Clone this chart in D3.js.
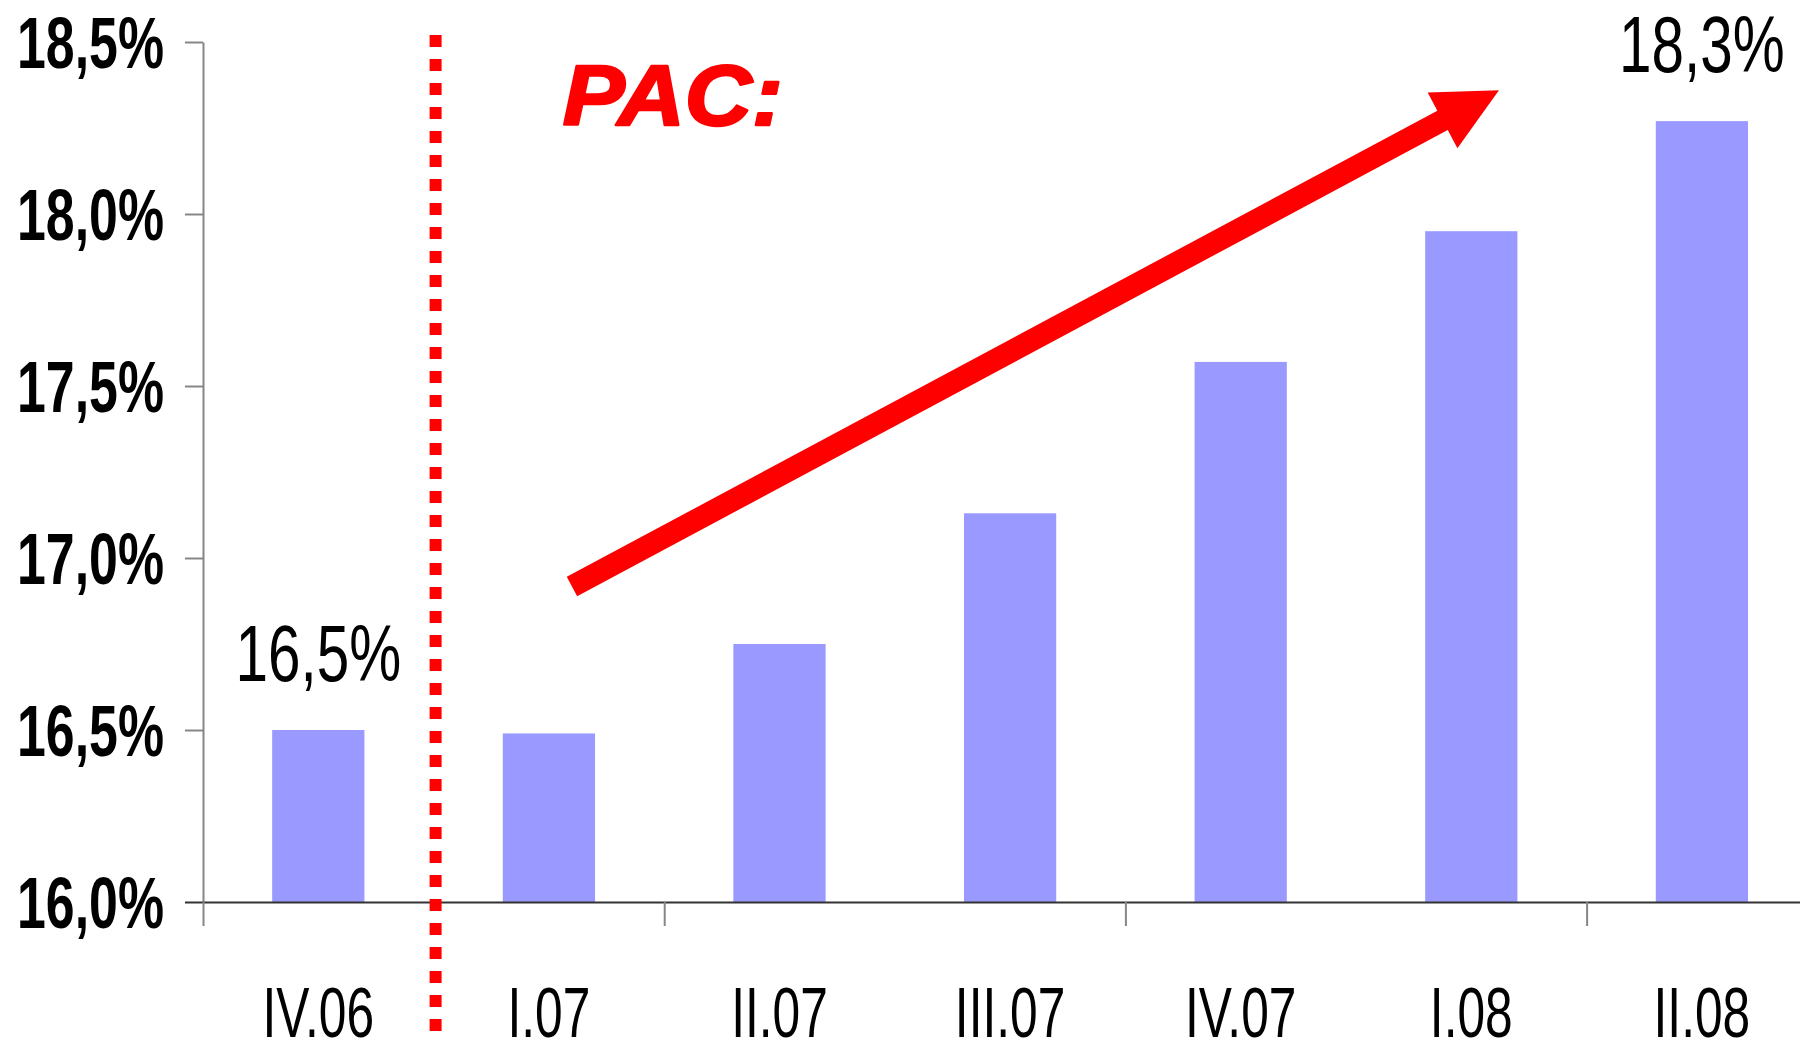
<!DOCTYPE html>
<html><head><meta charset="utf-8">
<script src="https://cdn.jsdelivr.net/npm/d3@7"></script>
<style>body{margin:0;background:#fff} svg{display:block}</style>
</head><body>
<svg id="chart" width="1800" height="1045"></svg>
<script>
// ---- data ----
const categories = ["IV.06","I.07","II.07","III.07","IV.07","I.08","II.08"];
const values = [16.50, 16.49, 16.75, 17.13, 17.57, 17.95, 18.27];
const yTicks = [16.0, 16.5, 17.0, 17.5, 18.0, 18.5];
const labelledBars = [0, 6];
const annotationText = "PAC:";
const pacPos = [1.56, 18.26];          // [category position, value]
const arrowFrom = [1.6, 16.917];
const arrowTo = [5.62, 18.36];
const dividerAt = [1];
const dividerSpan = [15.625, 18.52];

// ---- layout ----
const svg = d3.select("#chart");
const x0 = 203, step = 230.6;
const plotRight = x0 + step * categories.length;
const y = d3.scaleLinear().domain([16, 18.5]).range([902, 42]);
const x = d3.scaleBand().domain(categories).range([x0, plotRight]).paddingInner(0.6).paddingOuter(0.3);
const xi = d3.scaleLinear().domain([0, categories.length]).range([x0, plotRight]);
const fmt = d => d.toFixed(1).replace(".", ",") + "%";
const FONT = "'Liberation Sans', Arial, sans-serif";

// bars
svg.append("g").selectAll("rect").data(values).join("rect")
  .attr("x", (d, i) => x(categories[i]))
  .attr("width", x.bandwidth())
  .attr("y", d => y(d))
  .attr("height", d => y(16) - y(d))
  .attr("fill", "#9999FF");

// y axis
const yAxis = svg.append("g").attr("transform", `translate(${x0},0)`)
  .call(d3.axisLeft(y).tickValues(yTicks).tickSize(18).tickSizeOuter(0).tickFormat(fmt));
yAxis.select(".domain").attr("stroke", "#868686").attr("stroke-width", 2);
yAxis.selectAll(".tick line").attr("stroke", d => d === 16 ? "#333" : "#868686").attr("stroke-width", 2);
yAxis.selectAll(".tick text")
  .attr("x", null).attr("dy", null)
  .attr("transform", "translate(-39,25) scale(0.72,1)")
  .attr("text-anchor", "end")
  .attr("fill", "#000")
  .style("font-family", FONT).style("font-weight", "bold").style("font-size", "72px");

// x axis: line and boundary ticks every two categories
const xAxis = svg.append("g").attr("transform", `translate(0,${y(16)})`)
  .call(d3.axisBottom(xi).tickValues([0, 2, 4, 6]).tickSize(24).tickSizeOuter(0).tickFormat(""));
xAxis.select(".domain").attr("stroke", "#333").attr("stroke-width", 2);
xAxis.selectAll(".tick line").attr("stroke", "#868686").attr("stroke-width", 2);

// x labels
svg.append("g").selectAll("text").data(categories).join("text")
  .attr("transform", d => `translate(${x(d) + x.bandwidth() / 2},1037) scale(0.70,1)`)
  .attr("text-anchor", "middle")
  .style("font-family", FONT).style("font-size", "71px").attr("fill", "#000")
  .text(d => d);

// value labels
svg.append("g").selectAll("text").data(labelledBars).join("text")
  .attr("transform", i => `translate(${x(categories[i]) + x.bandwidth() / 2},${y(values[i]) - 49}) scale(0.74,1)`)
  .attr("text-anchor", "middle")
  .style("font-family", FONT).style("font-size", "79px").attr("fill", "#000")
  .text(i => fmt(values[i]));

// dotted divider
svg.append("g").selectAll("line").data(dividerAt).join("line")
  .attr("x1", d => xi(d) + 2).attr("x2", d => xi(d) + 2)
  .attr("y1", y(dividerSpan[1])).attr("y2", y(dividerSpan[0]))
  .attr("stroke", "#FF0000").attr("stroke-width", 12).attr("stroke-dasharray", "12,12");

// PAC: label
svg.append("text")
  .attr("transform", `translate(${xi(pacPos[0])},${y(pacPos[1])}) scale(1.08,1)`)
  .style("font-family", FONT).style("font-weight", "bold").style("font-style", "italic")
  .style("font-size", "86px").attr("fill", "#FF0000")
  .attr("stroke", "#FF0000").attr("stroke-width", 2.5).attr("stroke-linejoin", "round")
  .text(annotationText);

// arrow
(function () {
  const tx = xi(arrowFrom[0]), ty = y(arrowFrom[1]);
  const hx = xi(arrowTo[0]), hy = y(arrowTo[1]);
  const len = Math.hypot(hx - tx, hy - ty);
  const ux = (hx - tx) / len, uy = (hy - ty) / len;
  const nx = -uy, ny = ux;
  const sw = 11, hl = 64, hw = 31.5;
  const bx = hx - ux * hl, by = hy - uy * hl;
  const pts = [
    [tx + nx * sw, ty + ny * sw],
    [bx + nx * sw, by + ny * sw],
    [bx + nx * hw, by + ny * hw],
    [hx, hy],
    [bx - nx * hw, by - ny * hw],
    [bx - nx * sw, by - ny * sw],
    [tx - nx * sw, ty - ny * sw]
  ];
  svg.append("path").attr("d", d3.line()(pts) + "Z").attr("fill", "#FF0000");
})();
</script>
</body></html>
